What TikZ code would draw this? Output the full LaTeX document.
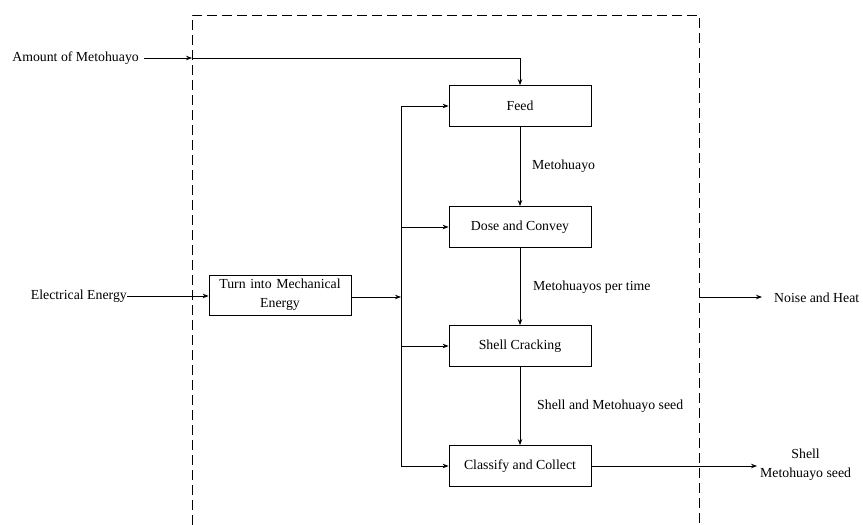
\documentclass[tikz,border=0pt]{standalone}
\usepackage{fontspec}
\setmainfont{Liberation Serif}
\usetikzlibrary{arrows.meta}
\begin{document}
\begin{tikzpicture}[x=1pt,y=-1pt,
  font=\fontsize{13.8}{17}\selectfont,
  arr/.style={-{Stealth[length=6pt,width=4.5pt]},line width=0.8pt},
  ln/.style={line width=0.8pt},
  proc/.style={draw,line width=0.8pt,minimum width=142pt,minimum height=41pt,inner sep=2pt,align=center},
  lbl/.style={anchor=west,inner sep=0pt},
  bnd/.style={line width=0.8pt,dash pattern=on 10pt off 5pt}]
\useasboundingbox (0,0) rectangle (863,525);
% system boundary
\draw[bnd] (192,525) -- (192,15) -- (699,15) -- (699,525);
% process boxes
\node[proc] (feed) at (520,106) {Feed};
\node[proc] (dose) at (520,227) {Dose and Convey};
\node[proc] (crack) at (520,346) {Shell Cracking};
\node[proc] (class) at (520,466) {Classify and Collect};
\node[proc,minimum height=40pt,text width=136pt] (turn) at (280,295) {Turn into Mechanical\\[2pt]Energy};
% external texts
\node[anchor=east,inner sep=0pt] (amt) at (139,58) {Amount of Metohuayo};
\node[anchor=east,inner sep=0pt] (elec) at (127,296) {Electrical Energy};
\node[lbl] (noise) at (774,298) {Noise and Heat};
\node[anchor=west,align=center,inner sep=0pt] (out) at (760,465) {Shell\\[2pt]Metohuayo seed};
% flow labels
\node[lbl] (l1) at (532,166) {Metohuayo};
\node[lbl] (l2) at (533,287) {Metohuayos per time};
\node[lbl] (l3) at (537,406) {Shell and Metohuayo seed};
% coordinates
\coordinate (inA) at (192,58);
\coordinate (busT) at (401,106);
\coordinate (busB) at (401,466);
\coordinate (busM) at (401,297);
\coordinate (outN) at (699,297);
\coordinate (endN) at (762,297);
% connectors
\draw[arr] ([xshift=5pt]amt.east) -- (inA);
\draw[arr] (inA) -| (feed.north);
\draw[arr] (elec.east) -- (turn.west |- elec.east);
\draw[arr] (turn.east |- busM) -- (busM);
\draw[ln] (busT) -- (busB);
\draw[arr] (busT) -- (feed.west);
\draw[arr] (busT |- dose.west) -- (dose.west);
\draw[arr] (busT |- crack.west) -- (crack.west);
\draw[arr] (busB) -- (class.west);
\draw[arr] (feed) -- (dose);
\draw[arr] (dose) -- (crack);
\draw[arr] (crack) -- (class);
\draw[arr] (outN) -- (endN);
\draw[arr] (class.east) -- ([xshift=-3pt]out.west |- class.east);
\end{tikzpicture}
\end{document}
